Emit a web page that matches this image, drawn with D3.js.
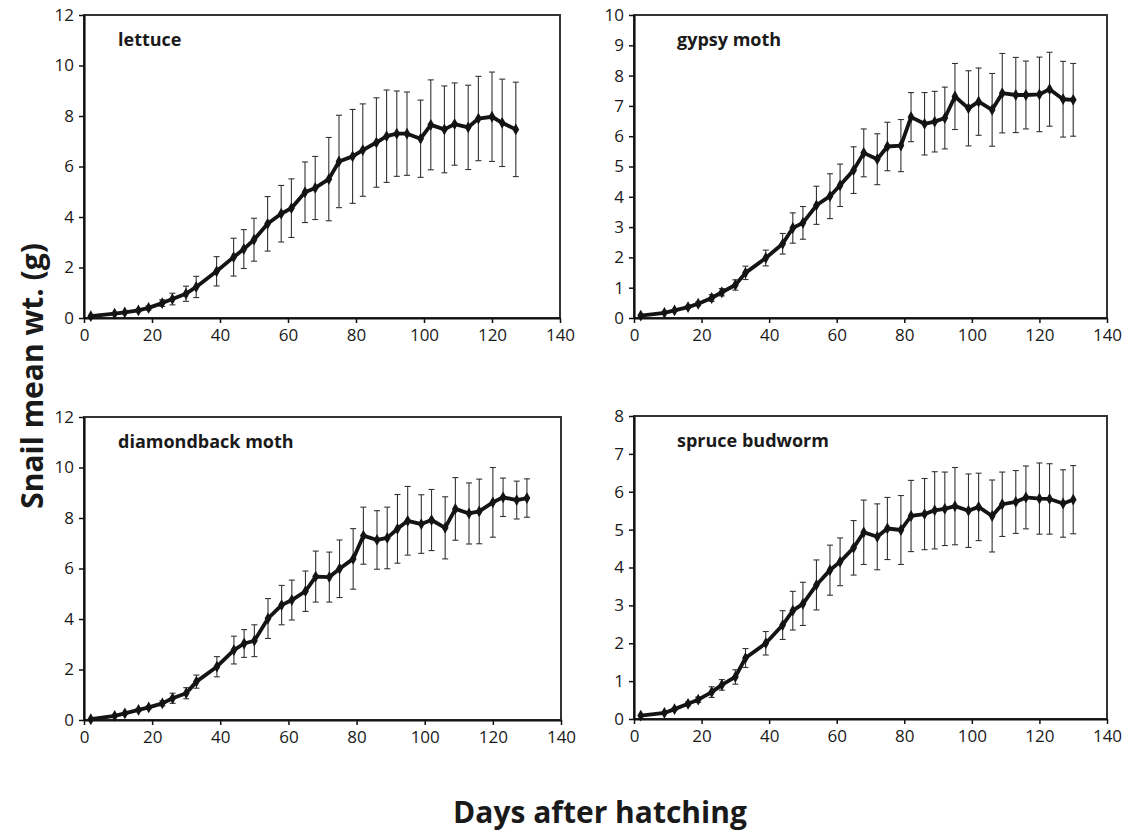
<!DOCTYPE html>
<html>
<head>
<meta charset="utf-8">
<script src="https://cdn.jsdelivr.net/npm/d3@7"></script>
<style>
  body { margin: 0; background: #fff; }
  svg { display: block; }
  .tick text { font-family: "Open Sans", sans-serif; font-size: 17px; fill: #1a1a1a; }
  .ptitle { font-family: "Open Sans", sans-serif; font-weight: bold; font-size: 18px; fill: #1a1a1a; }
  .atitle { font-family: "Open Sans", sans-serif; font-weight: bold; font-size: 30px; fill: #1a1a1a; }
</style>
</head>
<body>
<div id="holder"></div>
<script>
// days of sampling
var lettuceDays = [2,9,12,16,19,23,26,30,33,39,44,47,50,54,58,61,65,68,72,75,79,82,86,89,92,95,99,102,106,109,113,116,120,123,127];
var otherDays = [2,9,12,16,19,23,26,30,33,39,44,47,50,54,58,61,65,68,72,75,79,82,86,89,92,95,99,102,106,109,113,116,120,123,127,130];

// mean weight (g) and error half-widths per diet
var lettuceMean = [0.07,0.17,0.22,0.3,0.4,0.59,0.75,0.96,1.23,1.85,2.41,2.73,3.1,3.73,4.13,4.35,4.98,5.15,5.5,6.2,6.4,6.65,6.95,7.2,7.3,7.3,7.1,7.65,7.47,7.68,7.55,7.9,7.97,7.73,7.47];
var lettuceErr = [0,0,0,0.05,0.08,0.13,0.23,0.3,0.42,0.58,0.75,0.77,0.85,1.08,1.12,1.16,1.2,1.25,1.65,1.83,1.86,1.83,1.77,1.83,1.69,1.65,1.53,1.78,1.72,1.63,1.67,1.67,1.77,1.73,1.87];

var gypsyMean = [0.08,0.17,0.25,0.36,0.47,0.66,0.85,1.09,1.49,1.98,2.45,2.97,3.14,3.72,4.02,4.38,4.88,5.45,5.24,5.66,5.69,6.63,6.41,6.48,6.6,7.31,6.92,7.14,6.87,7.42,7.36,7.36,7.38,7.55,7.22,7.2];
var gypsyErr = [0,0,0.03,0.04,0.06,0.11,0.12,0.17,0.22,0.26,0.34,0.5,0.54,0.63,0.74,0.7,0.77,0.79,0.84,0.8,0.86,0.81,1.03,1.0,1.02,1.09,1.24,1.11,1.2,1.31,1.24,1.12,1.23,1.22,1.25,1.2];

var dbmMean = [0.03,0.16,0.26,0.4,0.5,0.66,0.86,1.06,1.52,2.11,2.77,3.03,3.14,4.02,4.55,4.75,5.1,5.68,5.66,5.99,6.38,7.3,7.13,7.21,7.57,7.89,7.76,7.92,7.61,8.36,8.18,8.26,8.62,8.82,8.71,8.79];
var dbmErr = [0,0,0,0.05,0.06,0.1,0.2,0.22,0.26,0.4,0.55,0.55,0.63,0.79,0.78,0.79,0.8,1.01,0.99,1.14,1.2,1.13,1.16,1.22,1.36,1.36,1.16,1.21,1.23,1.24,1.21,1.28,1.38,0.76,0.75,0.76];

var spruceMean = [0.09,0.16,0.26,0.4,0.51,0.71,0.9,1.11,1.61,2.0,2.48,2.86,3.04,3.54,3.93,4.15,4.52,4.93,4.81,5.03,4.99,5.36,5.41,5.51,5.55,5.62,5.5,5.6,5.36,5.67,5.73,5.85,5.82,5.81,5.69,5.79];
var spruceErr = [0,0,0.03,0.05,0.07,0.14,0.14,0.19,0.25,0.31,0.38,0.51,0.57,0.66,0.66,0.63,0.72,0.85,0.87,0.82,0.91,0.94,0.94,1.02,0.97,1.02,0.97,0.89,0.95,0.85,0.83,0.83,0.94,0.93,0.89,0.9];

var panelNames = ["lettuce", "gypsy moth", "diamondback moth", "spruce budworm"];
var yMaxes = [12, 10, 12, 8];
var yStepTicks = [2, 1, 2, 1];
var xTicks = [0,20,40,60,80,100,120,140];

var W = 1136, H = 836;
var svg = d3.select("#holder").append("svg").attr("width", W).attr("height", H);

var boxes = [
  {left: 84, right: 560, top: 15, bottom: 318},
  {left: 634, right: 1107, top: 15, bottom: 318},
  {left: 84, right: 561, top: 417, bottom: 720},
  {left: 634, right: 1107, top: 416, bottom: 719}
];
var series = [
  {days: lettuceDays, mean: lettuceMean, err: lettuceErr},
  {days: otherDays, mean: gypsyMean, err: gypsyErr},
  {days: otherDays, mean: dbmMean, err: dbmErr},
  {days: otherDays, mean: spruceMean, err: spruceErr}
];

boxes.forEach(function(b, i){
  var s = series[i];
  var data = s.days.map(function(d, j){ return {day: d, w: s.mean[j], e: s.err[j]}; });
  var x = d3.scaleLinear().domain([0, 140]).range([b.left, b.right]);
  var y = d3.scaleLinear().domain([0, yMaxes[i]]).range([b.bottom, b.top]);
  var g = svg.append("g");

  // frame
  g.append("rect")
    .attr("x", b.left).attr("y", b.top)
    .attr("width", b.right - b.left).attr("height", b.bottom - b.top)
    .attr("fill", "none").attr("stroke", "#333").attr("stroke-width", 2);

  // error bars
  var eb = g.append("g").attr("stroke", "#333").attr("stroke-width", 1.1);
  data.filter(function(d){ return d.e > 0; }).forEach(function(d){
    var cx = x(d.day);
    eb.append("line").attr("x1", cx).attr("x2", cx).attr("y1", y(d.w + d.e)).attr("y2", y(d.w - d.e));
    eb.append("line").attr("x1", cx - 3).attr("x2", cx + 3).attr("y1", y(d.w + d.e)).attr("y2", y(d.w + d.e));
    eb.append("line").attr("x1", cx - 3).attr("x2", cx + 3).attr("y1", y(d.w - d.e)).attr("y2", y(d.w - d.e));
  });

  var line = d3.line().x(function(d){ return x(d.day); }).y(function(d){ return y(d.w); });
  g.append("path").datum(data)
    .attr("fill", "none").attr("stroke", "#141414")
    .attr("stroke-width", 3.8).attr("stroke-linejoin", "round")
    .attr("d", line);

  g.selectAll(".pt").data(data).enter().append("path")
    .attr("class", "pt")
    .attr("transform", function(d){ return "translate(" + x(d.day) + "," + y(d.w) + ")"; })
    .attr("d", d3.symbol(d3.symbolDiamond, 40))
    .attr("fill", "#141414");

  // axes
  var xa = g.append("g").attr("transform", "translate(0," + b.bottom + ")")
    .call(d3.axisBottom(x).tickValues(xTicks).tickSize(5).tickPadding(6).tickSizeOuter(0));
  var yTicks = d3.range(0, yMaxes[i] + 0.001, yStepTicks[i]);
  var ya = g.append("g").attr("transform", "translate(" + b.left + ",0)")
    .call(d3.axisLeft(y).tickValues(yTicks).tickSize(5).tickPadding(5).tickSizeOuter(0));
  [xa, ya].forEach(function(a){
    a.select(".domain").attr("stroke", "#111").attr("stroke-width", 2.2);
    a.selectAll(".tick line").attr("stroke", "#111").attr("stroke-width", 1.5);
  });

  g.append("text").attr("class", "ptitle")
    .attr("x", b.left + (i % 2 ? 43 : 34)).attr("y", b.top + 31)
    .text(panelNames[i]);
});

svg.append("text").attr("class", "atitle")
  .attr("text-anchor", "middle")
  .attr("transform", "translate(43,376) rotate(-90)")
  .text("Snail mean wt. (g)");
svg.append("text").attr("class", "atitle")
  .attr("text-anchor", "middle")
  .attr("x", 600).attr("y", 823)
  .text("Days after hatching");
</script>
</body>
</html>
